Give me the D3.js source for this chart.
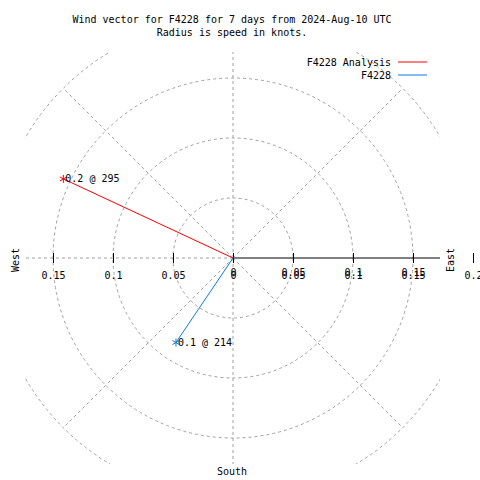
<!DOCTYPE html>
<html><head><meta charset="utf-8">
<script src="https://cdn.jsdelivr.net/npm/d3@7"></script>
<style>
body{margin:0;background:#fff;}
text{font-family:"DejaVu Sans Mono",monospace;font-size:10px;fill:#000;}
</style></head>
<body>
<svg id="chart" width="480" height="480"></svg>
<script>
// ---- data ----
const seriesNames = ["F4228 Analysis", "F4228"];
const seriesColors = ["#ff0000", "#0a7be6"];
const speeds = [0.156, 0.085];          // knots (radius)
const directions = [295, 214];          // degrees clockwise from north
const speedLabels = ["0.2", "0.1"];
const ringValues = [0.05, 0.1, 0.15, 0.2];
const radialAngles = [0, 45, 90, 135, 180, 225, 270, 315];
const tickValues = [0, 0.05, 0.1, 0.15, 0.2];
const titleLines = ["Wind vector for F4228 for 7 days from 2024-Aug-10 UTC", "Radius is speed in knots."];

// ---- layout ----
const cx = 233, cy = 258;
const r = d3.scaleLinear().domain([0, 0.2]).range([0, 240]);
const xRight = d3.scaleLinear().domain([0, 0.2]).range([cx, cx + 240]);
const xLeft = d3.scaleLinear().domain([0, 0.2]).range([cx, cx - 240]);
const svg = d3.select("#chart");

svg.append("defs").append("clipPath").attr("id", "plotclip")
  .append("rect").attr("x", 25).attr("y", 52).attr("width", 415).attr("height", 412);

const plot = svg.append("g").attr("clip-path", "url(#plotclip)");
const gridColor = "#a0a0a0";

// rings
plot.selectAll("circle.ring").data(ringValues).join("circle")
  .attr("class", "ring")
  .attr("cx", cx).attr("cy", cy).attr("r", d => r(d))
  .attr("fill", "none").attr("stroke", gridColor).attr("stroke-width", 1)
  .attr("stroke-dasharray", "3,3");

// radial lines (except east which is the solid axis)
plot.selectAll("line.radial").data(radialAngles.filter(a => a !== 90)).join("line")
  .attr("class", "radial")
  .attr("x1", cx).attr("y1", cy)
  .attr("x2", a => cx + r(0.2) * Math.sin(a * Math.PI / 180))
  .attr("y2", a => cy - r(0.2) * Math.cos(a * Math.PI / 180))
  .attr("stroke", gridColor).attr("stroke-width", 1)
  .attr("stroke-dasharray", "3,3");

// solid east axis line
plot.append("line")
  .attr("x1", cx).attr("y1", cy).attr("x2", xRight(0.2)).attr("y2", cy)
  .attr("stroke", "#000").attr("stroke-width", 1);

// right axis ticks + labels (drawn twice, as in the original)
const axRight = d3.axisBottom(xRight).tickValues(tickValues)
  .tickFormat(d => d === 0 ? "0" : d3.format("")(+d.toFixed(2))).tickSize(5).tickSizeOuter(0);
[ -3, 0 ].forEach(dy => {
  const g = svg.append("g").attr("transform", `translate(0,${cy})`).call(axRight);
  g.select(".domain").remove();
  g.selectAll(".tick line").attr("y1", -5).attr("y2", 5).attr("stroke", "#000")
    .attr("opacity", dy === 0 ? 1 : 0);
  g.selectAll(".tick text").attr("y", 14 + dy).attr("dy", "0.71em")
    .attr("font-family", "DejaVu Sans Mono").attr("font-size", 10).attr("fill", "#000")
    .attr("opacity", (d) => (dy === -3 && d === 0.2) ? 0 : 1);
});

// left axis ticks + labels
const axLeft = d3.axisBottom(xLeft).tickValues(tickValues.filter(d => d > 0 && d < 0.2))
  .tickFormat(d => String(+d.toFixed(2))).tickSize(5).tickSizeOuter(0);
const gl = svg.append("g").attr("transform", `translate(0,${cy})`).call(axLeft);
gl.select(".domain").remove();
gl.selectAll(".tick line").attr("y1", -5).attr("y2", 5).attr("stroke", "#000");
gl.selectAll(".tick text").attr("y", 14).attr("dy", "0.71em")
  .attr("font-family", "DejaVu Sans Mono").attr("font-size", 10).attr("fill", "#000");

// vectors
const vec = speeds.map((s, i) => ({
  name: seriesNames[i], color: seriesColors[i], speed: s, dir: directions[i],
  label: speedLabels[i] + " @ " + directions[i],
  x: cx + r(s) * Math.sin(directions[i] * Math.PI / 180),
  y: cy - r(s) * Math.cos(directions[i] * Math.PI / 180)
}));
const vg = svg.append("g");
vg.selectAll("line.vec").data(vec).join("line")
  .attr("class", "vec")
  .attr("x1", cx).attr("y1", cy).attr("x2", d => d.x).attr("y2", d => d.y)
  .attr("stroke", d => d.color).attr("stroke-width", 1);
vg.selectAll("path.pt").data(vec).join("path")
  .attr("class", "pt")
  .attr("transform", d => `translate(${d.x},${d.y})`)
  .attr("d", d3.symbol(d3.symbolAsterisk, 45))
  .attr("fill", "none").attr("stroke", d => d.color).attr("stroke-width", 1);
vg.selectAll("text.lbl").data(vec).join("text")
  .attr("class", "lbl")
  .attr("x", d => d.x + 2).attr("y", d => d.y + 3.5)
  .text(d => d.label);

// title
svg.selectAll("text.title").data(titleLines).join("text")
  .attr("class", "title")
  .attr("x", 232).attr("y", (d, i) => 23 + i * 13)
  .attr("text-anchor", "middle").text(d => d);

// legend
const lg = svg.selectAll("g.leg").data(vec).join("g")
  .attr("class", "leg")
  .attr("transform", (d, i) => `translate(0,${62 + i * 13})`);
lg.append("text").attr("x", 391).attr("y", 4).attr("text-anchor", "end").text(d => d.name);
lg.append("line").attr("x1", 398).attr("x2", 427).attr("y1", 0).attr("y2", 0)
  .attr("stroke", d => d.color).attr("stroke-width", 1);

// compass labels
svg.append("text").attr("transform", "translate(19,260) rotate(-90)")
  .attr("text-anchor", "middle").text("West");
svg.append("text").attr("transform", "translate(454,260) rotate(-90)")
  .attr("text-anchor", "middle").text("East");
svg.append("text").attr("x", 232).attr("y", 475)
  .attr("text-anchor", "middle").text("South");
</script>
</body></html>
